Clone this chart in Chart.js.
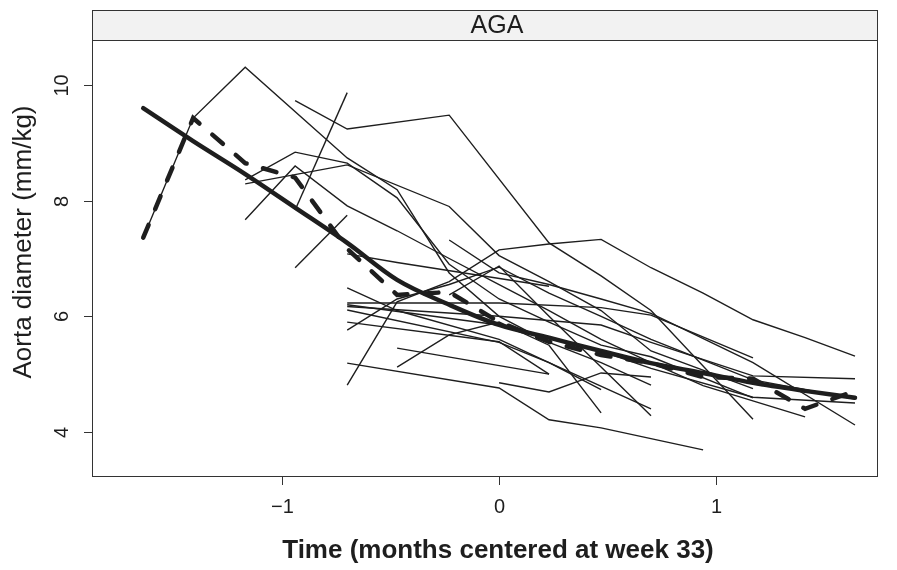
<!DOCTYPE html>
<html>
<head>
<meta charset="utf-8">
<script src="https://cdn.jsdelivr.net/npm/chart.js@4.4.1/dist/chart.umd.min.js"></script>
<style>
  html, body { margin: 0; padding: 0; background: #fff; }
  #wrap { width: 897px; height: 570px; }
</style>
</head>
<body>
<div id="wrap"><canvas id="chart" width="897" height="570"></canvas></div>
<script>
// time points (months centered at week 33)
const times = [-1.64, -1.41, -1.17, -0.94, -0.70, -0.47, -0.23, 0, 0.23, 0.47, 0.70, 0.94, 1.17, 1.41, 1.64];
const xTicks = [-1, 0, 1];
const yTicks = [4, 6, 8, 10];
const panelLabel = 'AGA';

// fitted curve (thick solid) and mean profile (thick dashed)
const fitted = [9.6, 9.03, 8.46, 7.88, 7.27, 6.63, 6.2, 5.85, 5.63, 5.4, 5.19, 5.02, 4.85, 4.71, 4.59];
const meanProfile = [7.36, 9.43, 8.65, 8.4, 7.17, 6.37, 6.42, 5.9, 5.56, 5.33, 5.19, 4.95, 4.92, 4.4, 4.71];

// individual infants, one row per subject, null = not measured
const N = null;
const subjects = [
  [7.36, 9.43, 10.31, N, 8.74, 8.19, 6.75, 6.0, 5.55, 5.2, 4.81, N, N, N, N],
  [N, N, N, 9.73, 9.24, N, 9.48, N, 7.27, 6.7, 6.1, N, 4.22, N, N],
  [N, N, N, 7.84, 9.87, N, N, N, N, N, N, N, N, N, N],
  [N, N, N, 6.84, 7.75, N, N, N, N, N, N, N, N, N, N],
  [N, N, 8.36, 8.84, 8.65, 8.05, 6.9, 6.3, 5.9, 5.5, 5.3, N, 4.59, N, N],
  [N, N, 8.29, N, 8.62, N, 7.9, 7.05, 6.6, 6.1, 5.4, N, 4.75, N, N],
  [N, N, 7.67, 8.6, 7.91, 7.48, 7.0, 6.55, 6.1, 5.6, 5.2, 4.8, N, 4.26, N],
  [N, N, N, N, 4.81, 6.25, 6.6, 7.15, 7.25, 7.33, 6.84, 6.4, 5.94, 5.63, 5.31],
  [N, N, N, N, 7.08, 6.93, N, N, 6.52, N, N, N, N, N, N],
  [N, N, N, N, 6.49, 6.1, N, 5.6, 5.2, N, 4.4, N, N, N, N],
  [N, N, N, N, 6.23, N, N, 6.23, N, 6.15, 6.02, N, 5.28, N, N],
  [N, N, N, N, 6.17, N, N, 6.0, N, 5.85, 5.55, N, 4.97, N, 4.92],
  [N, N, N, N, 6.2, N, N, 5.85, N, 5.4, 5.1, N, 4.6, N, 4.5],
  [N, N, N, N, 6.11, N, N, 5.55, 5.2, 4.73, N, N, N, N, N],
  [N, N, N, N, 5.9, N, N, 5.56, 5.0, N, N, N, N, N, N],
  [N, N, N, N, 5.76, 6.3, 6.55, 6.85, 6.4, 6.0, 5.6, N, 4.9, N, 4.57],
  [N, N, N, N, 5.19, N, N, 4.76, 4.21, 4.07, N, 3.69, N, N, N],
  [N, N, N, N, N, 5.45, N, N, 5.0, N, N, N, N, N, N],
  [N, N, N, N, N, 5.12, 5.68, 5.9, 5.5, 4.33, N, N, N, N, N],
  [N, N, N, N, N, N, 7.32, 6.75, 6.55, 6.3, 6.05, N, 5.2, N, 4.12],
  [N, N, N, N, N, N, 6.37, 6.87, 6.0, N, 4.28, N, N, N, N],
  [N, N, N, N, N, N, N, 4.85, 4.69, 5.02, 4.95, N, N, N, N]
];

const INK = '#1e1e1e';
const FONT = '"Liberation Sans", Arial, Helvetica, sans-serif';

function toPoints(values) {
  const pts = [];
  values.forEach((v, i) => {
    if (v !== null) pts.push({ x: times[i], y: v });
  });
  return pts;
}

const datasets = [];
subjects.forEach((row, i) => {
  datasets.push({
    label: 'id' + (i + 1),
    data: toPoints(row),
    borderColor: INK,
    borderWidth: 1.4,
    pointRadius: 0,
    tension: 0,
    order: 3
  });
});
datasets.push({
  label: 'fitted',
  data: toPoints(fitted),
  borderColor: INK,
  borderWidth: 4.5,
  pointRadius: 0,
  cubicInterpolationMode: 'monotone',
  borderCapStyle: 'round',
  order: 2
});
datasets.push({
  label: 'mean',
  data: toPoints(meanProfile),
  borderColor: INK,
  borderWidth: 4.5,
  borderDash: [14, 17],
  borderCapStyle: 'round',
  pointRadius: 0,
  tension: 0,
  order: 1
});

// frame, strip, ticks and labels drawn lattice style
const latticeFrame = {
  id: 'latticeFrame',
  beforeDraw(chart) {
    const ctx = chart.ctx;
    ctx.save();
    ctx.fillStyle = '#fff';
    ctx.fillRect(0, 0, chart.width, chart.height);
    ctx.restore();
  },
  afterDraw(chart) {
    const { ctx, chartArea: a, scales } = chart;
    const xs = scales.x, ys = scales.y;
    ctx.save();
    ctx.strokeStyle = '#333';
    ctx.lineWidth = 1;

    // strip
    ctx.fillStyle = '#f2f2f2';
    ctx.fillRect(a.left, 10, a.right - a.left, a.top - 10);
    ctx.strokeRect(a.left + 0.5, 10.5, a.right - a.left - 1, a.top - 10);
    ctx.fillStyle = INK;
    ctx.font = '25px ' + FONT;
    ctx.textAlign = 'center';
    ctx.textBaseline = 'middle';
    ctx.fillText(panelLabel, 497, 26);

    // panel box
    ctx.strokeRect(a.left + 0.5, a.top + 0.5, a.right - a.left - 1, a.bottom - a.top - 1);

    // x ticks
    ctx.font = '20px ' + FONT;
    ctx.textBaseline = 'middle';
    xTicks.forEach(t => {
      const px = Math.round(xs.getPixelForValue(t)) + 0.5;
      ctx.beginPath();
      ctx.moveTo(px, a.bottom);
      ctx.lineTo(px, a.bottom + 8);
      ctx.stroke();
      ctx.fillText(t < 0 ? '\u2212' + Math.abs(t) : String(t), px, a.bottom + 30);
    });

    // y ticks, labels rotated
    yTicks.forEach(v => {
      const py = Math.round(ys.getPixelForValue(v)) + 0.5;
      ctx.beginPath();
      ctx.moveTo(a.left, py);
      ctx.lineTo(a.left - 8, py);
      ctx.stroke();
      ctx.save();
      ctx.translate(a.left - 30, py);
      ctx.rotate(-Math.PI / 2);
      ctx.fillText(String(v), 0, 0);
      ctx.restore();
    });

    // axis titles
    ctx.font = 'bold 26px ' + FONT;
    ctx.fillText('Time (months centered at week 33)', 498, 551);
    ctx.font = '26px ' + FONT;
    ctx.save();
    ctx.translate(24, 242);
    ctx.rotate(-Math.PI / 2);
    ctx.fillText('Aorta diameter (mm/kg)', 0, 0);
    ctx.restore();
    ctx.restore();
  }
};

new Chart(document.getElementById('chart'), {
  type: 'scatter',
  data: { datasets },
  options: {
    responsive: false,
    animation: false,
    showLine: true,
    layout: { padding: { left: 92, right: 19, top: 40, bottom: 93 } },
    plugins: { legend: { display: false }, tooltip: { enabled: false } },
    scales: {
      x: { type: 'linear', min: -1.876, max: 1.746, display: false },
      y: { type: 'linear', min: 3.22, max: 10.78, display: false }
    }
  },
  plugins: [latticeFrame]
});
</script>
</body>
</html>
